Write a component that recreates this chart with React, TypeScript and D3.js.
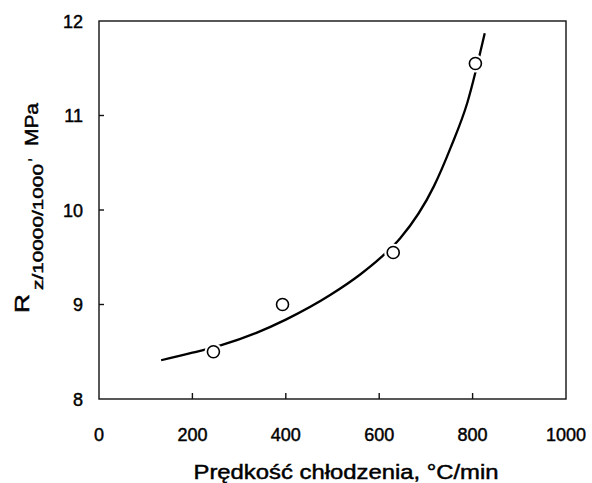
import React from "react";
import * as d3 from "d3";

const pointX = [245, 393, 630, 806];
const pointY = [8.5, 9.0, 9.55, 11.55];

const curveX = [133, 200, 262, 337, 400, 495, 560, 602, 645, 717, 753, 789, 826];
const curveY = [8.41, 8.49, 8.57, 8.7, 8.84, 9.1, 9.32, 9.49, 9.7, 10.25, 10.66, 11.14, 11.87];

const xTicks = [0, 200, 400, 600, 800, 1000];
const yTicks = [8, 9, 10, 11, 12];

const xTitle = "Prędkość chłodzenia, °C/min";

export default function App() {
  const W = 592, H = 483;
  const left = 99, right = 566, top = 21, bottom = 399;
  const x = d3.scaleLinear().domain([0, 1000]).range([left, right]);
  const y = d3.scaleLinear().domain([8, 12]).range([bottom, top]);

  const line = d3
    .line<number>()
    .x((_, i) => x(curveX[i]))
    .y((d) => y(d))
    .curve(d3.curveMonotoneX);

  const font = "'Liberation Sans', Arial, sans-serif";
  const ts = { stroke: "#000", strokeWidth: 0.45 };

  return (
    <svg width={W} height={H} style={{ position: "absolute", left: 0, top: 0, background: "#fff" }}>
      <rect x={0} y={0} width={W} height={H} fill="#fff" />
      <rect x={left} y={top} width={right - left} height={bottom - top} fill="none" stroke="#111" strokeWidth={1.4} />
      {xTicks.slice(1, -1).map((t) => (
        <line key={"xt" + t} x1={x(t)} x2={x(t)} y1={bottom} y2={bottom - 6} stroke="#111" strokeWidth={1.4} />
      ))}
      {yTicks.slice(1, -1).map((t) => (
        <line key={"yt" + t} x1={left} x2={left + 5} y1={y(t)} y2={y(t)} stroke="#111" strokeWidth={1.4} />
      ))}
      {xTicks.map((t) => (
        <text key={"xl" + t} x={x(t)} y={441} textAnchor="middle" fontFamily={font} fontSize={18} fill="#000" {...ts}>
          {t}
        </text>
      ))}
      {yTicks.map((t) => (
        <text key={"yl" + t} x={83} y={y(t) + 6.5} textAnchor="end" fontFamily={font} fontSize={18} fill="#000" {...ts}>
          {t}
        </text>
      ))}
      <path d={line(curveY) || ""} fill="none" stroke="#000" strokeWidth={2.3} />
      {pointX.map((px, i) => (
        <circle key={"h" + i} cx={x(px)} cy={y(pointY[i])} r={9} fill="#fff" />
      ))}
      {pointX.map((px, i) => (
        <circle key={"c" + i} cx={x(px)} cy={y(pointY[i])} r={6} fill="#fff" stroke="#000" strokeWidth={1.6} />
      ))}
      <text x={346} y={479} textAnchor="middle" fontFamily={font} fontSize={20} textLength={305} lengthAdjust="spacingAndGlyphs" fill="#000" {...ts}>
        {xTitle}
      </text>
      <g fontFamily={font} fill="#000" {...ts}>
        <text transform="translate(29,313) rotate(-90)" fontSize={20} textLength={19} lengthAdjust="spacingAndGlyphs">R</text>
        <text transform="translate(43,290) rotate(-90)" fontSize={15} textLength={126} lengthAdjust="spacingAndGlyphs">z/10000/1000</text>
        <text transform="translate(30,162) rotate(-90)" fontSize={15}>,</text>
        <text transform="translate(38,146) rotate(-90)" fontSize={18} textLength={43} lengthAdjust="spacingAndGlyphs">MPa</text>
      </g>
    </svg>
  );
}
